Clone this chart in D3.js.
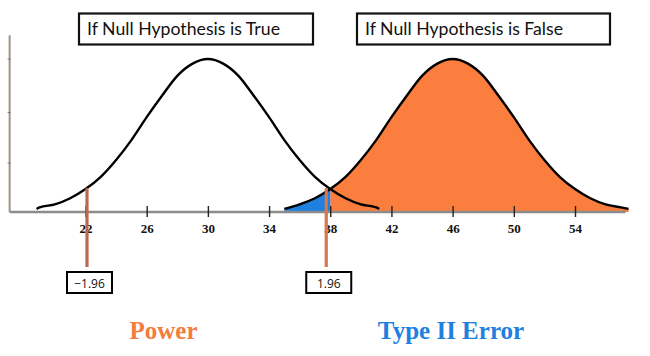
<!DOCTYPE html>
<html>
<head>
<meta charset="utf-8">
<script src="https://cdn.jsdelivr.net/npm/d3@7"></script>
<style>
  html, body { margin: 0; padding: 0; background: #fff; }
  svg { display: block; }
</style>
</head>
<body>
<svg id="chart" width="650" height="356"></svg>
<script>
// ---------- data ----------
const tickValues = [22, 26, 30, 34, 38, 42, 46, 50, 54];
const nullMean = 30;
const altMean = 46;
// relative curve heights, at offsets (in x units) from each mean
const offsets = [-11.2, -11, -10, -9, -8, -7, -6, -5, -4, -3, -2, -1, 0, 1, 2, 3, 4, 5, 6, 7, 8, 9, 10, 11, 11.2];
const nullHeights = [0.02, 0.03, 0.05, 0.09, 0.15, 0.23, 0.34, 0.47, 0.62, 0.76, 0.89, 0.97, 1, 0.97, 0.89, 0.76, 0.62, 0.47, 0.34, 0.23, 0.15, 0.09, 0.05, 0.03, 0.02];
const altOffsets = [-11, -10, -9, -8, -7, -6, -5, -4, -3, -2, -1, 0, 1, 2, 3, 4, 5, 6, 7, 8, 9, 10, 11, 11.5];
const altHeights = [0.02, 0.05, 0.09, 0.15, 0.23, 0.34, 0.47, 0.62, 0.76, 0.89, 0.97, 1, 0.97, 0.89, 0.76, 0.62, 0.47, 0.34, 0.23, 0.15, 0.09, 0.05, 0.03, 0.02];
const criticalValues = [22, 38];
const criticalLabels = ["\u22121.96", "1.96"];
const criticalColors = ["#b9694e", "#d6774e"];
const panelTitles = ["If Null Hypothesis is True", "If Null Hypothesis is False"];
const bottomLabels = ["Power", "Type II Error"];
const axisExtent = [17.04, 57.3];

// ---------- scales ----------
const svg = d3.select("#chart");
const x = d3.scaleLinear().domain([22, 54]).range([85.5, 575]);
const y = d3.scaleLinear().domain([0, 1]).range([212, 59]);

const nullPts = offsets.map((o, i) => ({ v: nullMean + o, h: nullHeights[i] }));
const altPts = altOffsets.map((o, i) => ({ v: altMean + o, h: altHeights[i] }));

const line = d3.line().x(d => x(d.v)).y(d => y(d.h)).curve(d3.curveMonotoneX);
const area = d3.area().x(d => x(d.v)).y0(y(0)).y1(d => y(d.h)).curve(d3.curveMonotoneX);

const interp = (pts, v) => {
  for (let i = 0; i < pts.length - 1; i++) {
    const a = pts[i], b = pts[i + 1];
    if (v >= a.v && v <= b.v) return a.h + (b.h - a.h) * (v - a.v) / (b.v - a.v);
  }
  return 0;
};
const crit = criticalValues[1];
const hCrit = interp(altPts, crit);
const bluePts = altPts.filter(d => d.v < crit).concat([{ v: crit, h: hCrit }]);
const orangePts = [{ v: crit, h: hCrit }].concat(altPts.filter(d => d.v > crit));

// ---------- fills ----------
svg.append("path").datum(orangePts).attr("d", area).attr("fill", "#fb7e3e");
svg.append("path").datum(bluePts).attr("d", area).attr("fill", "#1f80e0");

// ---------- axes ----------
svg.append("line")
  .attr("x1", x(axisExtent[0])).attr("x2", x(axisExtent[1]))
  .attr("y1", y(0)).attr("y2", y(0))
  .attr("stroke", "#8c8c8c").attr("stroke-width", 2.5);

svg.append("line")
  .attr("x1", x(axisExtent[0])).attr("x2", x(axisExtent[0]))
  .attr("y1", y(0)).attr("y2", y(1.155))
  .attr("stroke", "#a39284").attr("stroke-width", 2);

[0.32, 0.65, 1.0].forEach(t => {
  svg.append("line")
    .attr("x1", x(axisExtent[0]) - 2).attr("x2", x(axisExtent[0]) + 1)
    .attr("y1", y(t)).attr("y2", y(t))
    .attr("stroke", "#777").attr("stroke-width", 1);
});

const xAxis = d3.axisBottom(x).tickValues(tickValues).tickSize(6).tickPadding(0);
const gx = svg.append("g").attr("transform", `translate(0,${y(0)})`).call(xAxis);
gx.select(".domain").remove();
gx.selectAll(".tick line")
  .attr("y1", -6).attr("y2", 5)
  .attr("stroke", "#222").attr("stroke-width", 1.4);
gx.selectAll(".tick text")
  .attr("y", 21).attr("dy", 0)
  .attr("font-family", "'Liberation Serif', 'Times New Roman', serif")
  .attr("font-weight", "bold")
  .attr("font-size", 13)
  .attr("fill", "#111");

// ---------- curves ----------
svg.append("path").datum(nullPts).attr("d", line)
  .attr("fill", "none").attr("stroke", "#000").attr("stroke-width", 2.4);
svg.append("path").datum(altPts).attr("d", line)
  .attr("fill", "none").attr("stroke", "#000").attr("stroke-width", 2.4);

// ---------- critical lines & labels ----------
criticalValues.forEach((c, i) => {
  const cx = x(c) + (i === 0 ? 1.5 : -4);
  svg.append("line")
    .attr("x1", cx).attr("x2", cx)
    .attr("y1", y(interp(nullPts, c)) - 1).attr("y2", 267)
    .attr("stroke", criticalColors[i]).attr("stroke-width", 3.2);
  const bx = cx + 2.5;
  svg.append("rect")
    .attr("x", bx - 22.5).attr("y", 272).attr("width", 45).attr("height", 21)
    .attr("fill", "#fff").attr("stroke", "#000").attr("stroke-width", 2);
  svg.append("text")
    .attr("x", bx).attr("y", 287.5)
    .attr("text-anchor", "middle")
    .attr("font-family", "'Open Sans', 'DejaVu Sans', sans-serif")
    .attr("font-size", 12)
    .attr("fill", "#111")
    .text(criticalLabels[i]);
});

// ---------- title boxes ----------
const boxes = [
  { x: 79, w: 234, tx: 87, tw: 193 },
  { x: 357, w: 253, tx: 365, tw: 198 }
];
boxes.forEach((b, i) => {
  svg.append("rect")
    .attr("x", b.x).attr("y", 13.5).attr("width", b.w).attr("height", 31)
    .attr("fill", "#fff").attr("stroke", "#111").attr("stroke-width", 2.2);
  svg.append("text")
    .attr("x", b.tx).attr("y", 35)
    .attr("font-family", "Lato, 'Open Sans', sans-serif")
    .attr("font-size", 17)
    .attr("fill", "#111")
    .attr("textLength", b.tw).attr("lengthAdjust", "spacingAndGlyphs")
    .text(panelTitles[i]);
});

// ---------- bottom labels ----------
const bottomColors = ["#f47c3c", "#1f80e0"];
const bottomX = [163.5, 451];
bottomLabels.forEach((t, i) => {
  svg.append("text")
    .attr("x", bottomX[i]).attr("y", 339)
    .attr("text-anchor", "middle")
    .attr("font-family", "'Liberation Serif', 'Times New Roman', serif")
    .attr("font-weight", "bold")
    .attr("font-size", 25)
    .attr("fill", bottomColors[i])
    .text(t);
});
</script>
</body>
</html>
